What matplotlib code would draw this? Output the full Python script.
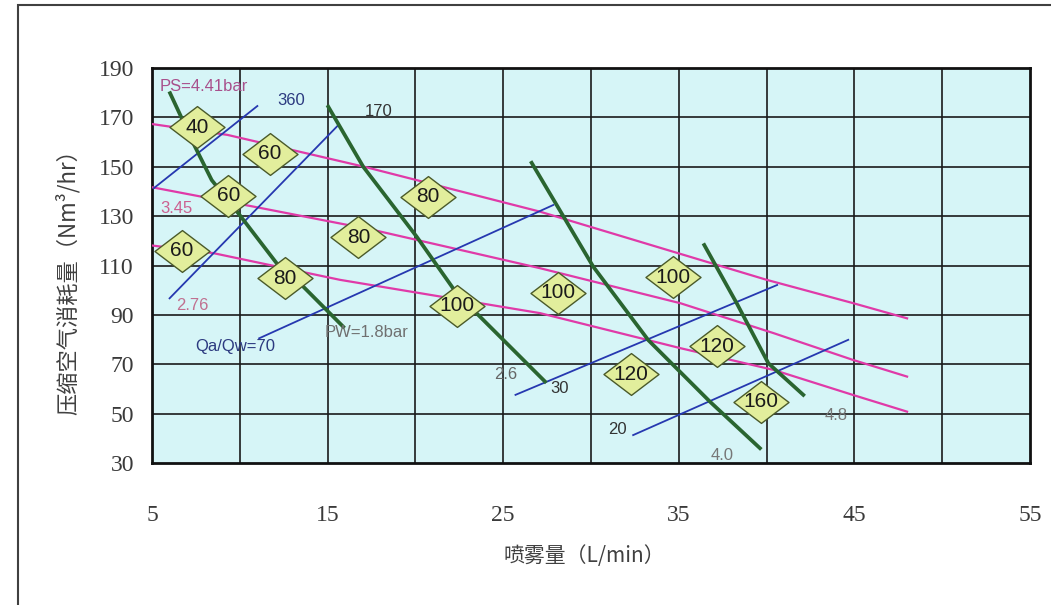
import matplotlib
matplotlib.use('Agg')
import matplotlib.pyplot as plt
from matplotlib.path import Path
from matplotlib.patches import Rectangle

# pink: compressed air pressure PS (bar)
ps441_x = [5.0, 9.3, 17.2, 27.1, 40.0, 44.9, 48.0]
ps441_y = [167.3, 162.9, 149.8, 131.8, 104.2, 94.8, 88.6]
ps345_x = [5.0, 10.6, 17.6, 27.1, 35.1, 40.4, 44.9, 48.0]
ps345_y = [141.7, 134.1, 124.4, 108.9, 94.7, 82.6, 71.8, 65.0]
ps276_x = [5.0, 8.5, 15.7, 27.1, 35.1, 40.4, 44.9, 48.0]
ps276_y = [118.1, 115.0, 104.2, 90.7, 76.5, 67.7, 57.6, 50.8]

# blue: air/water ratio Qa/Qw
qr360_x = [5.1, 11.0]
qr360_y = [141.3, 174.6]
qr170_x = [6.0, 15.6]
qr170_y = [96.7, 166.8]
qr70_x = [11.1, 27.85]
qr70_y = [80.5, 134.5]
qr30_x = [25.7, 40.6]
qr30_y = [57.6, 102.1]
qr20_x = [32.4, 44.65]
qr20_y = [41.3, 79.9]

# green: water pressure PW (bar)
pw18_x = [6.03, 7.45, 8.40, 9.91, 12.10, 13.62, 15.89]
pw18_y = [179.8, 158.1, 144.6, 131.2, 110.9, 101.4, 85.2]
pw26_x = [15.04, 17.03, 20.07, 22.35, 27.38]
pw26_y = [174.3, 150.0, 121.7, 98.7, 63.0]
pw40_x = [26.62, 30.13, 33.26, 36.78, 39.62]
pw40_y = [151.6, 109.5, 79.8, 54.8, 36.0]
pw48_x = [36.45, 38.30, 40.10, 42.09]
pw48_y = [118.3, 94.7, 70.4, 57.6]

# diamond labels
dia_x = [7.56, 11.72, 9.35, 20.73, 16.75, 6.69, 12.57, 22.35, 28.14, 34.69, 37.16, 32.26, 39.66]
dia_y = [166.1, 155.2, 138.2, 137.9, 121.4, 116.0, 104.8, 93.6, 99.0, 105.3, 77.2, 66.0, 54.9]
dia_txt = ['40', '60', '60', '80', '80', '60', '80', '100', '100', '100', '120', '120', '160']

# line labels: (text, x, y, color, ha)
line_labels = [
    ('PS=4.41bar', 5.45, 182.7, '#a8508c', 'left'),
    ('360', 12.9, 177.0, '#2c3a80', 'center'),
    ('170', 17.9, 172.2, '#333333', 'center'),
    ('3.45', 6.37, 132.9, '#cc6090', 'center'),
    ('2.76', 7.28, 94.0, '#c07090', 'center'),
    ('Qa/Qw=70', 9.73, 77.0, '#2c3a80', 'center'),
    ('PW=1.8bar', 17.24, 82.7, '#707070', 'center'),
    ('2.6', 25.16, 65.7, '#666666', 'center'),
    ('30', 28.23, 60.0, '#333333', 'center'),
    ('20', 31.48, 43.4, '#333333', 'center'),
    ('4.0', 37.46, 32.9, '#777777', 'center'),
    ('4.8', 43.95, 49.1, '#777777', 'center'),
]

xticks = [5, 15, 25, 35, 45, 55]
yticks = [30, 50, 70, 90, 110, 130, 150, 170, 190]

fig = plt.figure(figsize=(10.51, 6.05), dpi=100)
ax = fig.add_axes([152/1051, 1-463/605, (1030-152)/1051, (463-68)/605])
ax.set_facecolor('#d6f5f7')
ax.set_xlim(5, 55)
ax.set_ylim(30, 190)

# grid
for gx in range(10, 55, 5):
    ax.axvline(gx, color='#1a1a1a', lw=1.2, zorder=1)
for gy in range(50, 190, 20):
    ax.axhline(gy, color='#1a1a1a', lw=1.2, zorder=1)

pink = '#e03aa8'
for xs, ys in [(ps441_x, ps441_y), (ps345_x, ps345_y), (ps276_x, ps276_y)]:
    ax.plot(xs, ys, color=pink, lw=1.6, zorder=3)

blue = '#2638b0'
for xs, ys in [(qr360_x, qr360_y), (qr170_x, qr170_y), (qr70_x, qr70_y),
               (qr30_x, qr30_y), (qr20_x, qr20_y)]:
    ax.plot(xs, ys, color=blue, lw=1.3, zorder=3)

green = '#2a6530'
for xs, ys in [(pw18_x, pw18_y), (pw26_x, pw26_y), (pw40_x, pw40_y), (pw48_x, pw48_y)]:
    ax.plot(xs, ys, color=green, lw=2.7, zorder=4)

diamond = Path([(-1, 0), (0, 0.76), (1, 0), (0, -0.76), (-1, 0)],
               [Path.MOVETO, Path.LINETO, Path.LINETO, Path.LINETO, Path.CLOSEPOLY])
ax.scatter(dia_x, dia_y, marker=diamond, s=1570, facecolor='#e2ee9c',
           edgecolor='#4a5a2a', linewidths=1.0, zorder=5)
for x, y, t in zip(dia_x, dia_y, dia_txt):
    ax.text(x, y, t, ha='center', va='center', fontsize=15,
            family='Liberation Sans', color='#1a1a1a', zorder=6)

for t, x, y, c, ha in line_labels:
    ax.text(x, y, t, ha=ha, va='center', fontsize=12, family='Liberation Sans',
            color=c, zorder=6)

ax.set_xticks(xticks)
ax.set_yticks(yticks)
ax.tick_params(length=0, labelsize=17, colors='#3a3a3a')
ax.tick_params(axis='x', pad=30)
ax.tick_params(axis='y', pad=13)
for lab in ax.get_xticklabels() + ax.get_yticklabels():
    lab.set_family('Liberation Serif')
for sp in ax.spines.values():
    sp.set_linewidth(2)
    sp.set_color('#111111')

cjk = ['Noto Sans CJK SC', 'DejaVu Sans']
fig.text(68/1051, 1-277/605, '压缩空气消耗量（Nm³/hr）', rotation=90, ha='center',
         va='center', fontsize=16, family=cjk, color='#404040')
fig.text(584/1051, 1-556/605, '喷雾量（L/min）', ha='center', va='center',
         fontsize=15, family=cjk, color='#404040')

# outer frame
fig.patches.append(Rectangle((18/1051, -0.1), 1.2, 1 - 5/605 + 0.1,
                             transform=fig.transFigure, fill=False,
                             edgecolor='#404040', lw=1.5))

fig.savefig('out.png', dpi=100)
